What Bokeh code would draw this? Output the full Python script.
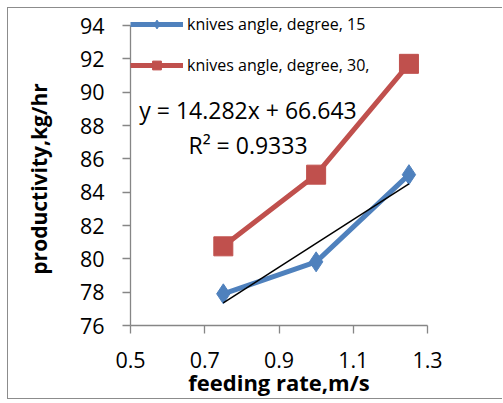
from bokeh.plotting import figure
from bokeh.models import Range1d, FixedTicker, Legend, LegendItem, Label
from bokeh.embed import file_html
from bokeh.resources import INLINE

# feeding rate (m/s)
feeding_rate = [0.75, 1.0, 1.25]
# productivity (kg/hr) for each knife angle
angle_15 = [77.9, 79.82, 85.05]
angle_30 = [80.75, 85.05, 91.7]

series_names = ["knives angle, degree, 15", "knives angle, degree, 30,"]

# linear trend of the 15-degree series
trend_slope = 14.282
trend_intercept = 66.643
trend_r2 = 0.9333

x_ticks = [0.5, 0.7, 0.9, 1.1, 1.3]
y_ticks = [76, 78, 80, 82, 84, 86, 88, 90, 92, 94]

BLUE = "#4F81BD"
RED = "#C0504D"
AXIS_GRAY = "#868686"
BORDER = "1px solid #8c8c8c"
FONT = "Open Sans"

# the frame reaches a little above 94 so the legend has room; the axis
# itself is bounded to 76..94
p = figure(width=495, height=392, output_backend="svg", toolbar_location=None,
           x_range=Range1d(0.5, 1.3), y_range=Range1d(76, 94.9),
           min_border_left=122, min_border_right=76,
           min_border_top=2, min_border_bottom=75,
           margin=(7, 0, 0, 7),
           styles={"border-left": BORDER, "border-top": BORDER,
                   "border-bottom": BORDER})

p.outline_line_color = None
p.xgrid.visible = False
p.ygrid.visible = False
p.background_fill_color = "white"
p.border_fill_color = "white"

for ax in (p.xaxis[0], p.yaxis[0]):
    ax.axis_line_color = AXIS_GRAY
    ax.axis_line_width = 1.3
    ax.major_tick_line_color = AXIS_GRAY
    ax.major_tick_line_width = 1.3
    ax.major_tick_out = 8
    ax.major_tick_in = 0
    ax.minor_tick_line_color = None
    ax.major_label_text_font = FONT
    ax.major_label_text_font_size = "21.5px"
    ax.major_label_text_color = "black"
    ax.axis_label_text_font = FONT
    ax.axis_label_text_font_style = "bold"
    ax.axis_label_text_color = "black"

p.xaxis.axis_label_text_font_size = "22px"
p.yaxis.axis_label_text_font_size = "21px"
p.xaxis.ticker = FixedTicker(ticks=x_ticks)
p.yaxis.ticker = FixedTicker(ticks=y_ticks)
p.yaxis.bounds = (76, 94)
p.xaxis.major_label_overrides = {t: f"{t:.1f}" for t in x_ticks}
p.xaxis.axis_label = "feeding rate,m/s"
p.yaxis.axis_label = "productivity,kg/hr" + "\u00a0" * 4
p.xaxis.major_label_standoff = 18
p.yaxis.major_label_standoff = 18
p.xaxis.axis_label_standoff = -4
p.yaxis.axis_label_standoff = 24

# trend line for the 15-degree series
tx = [feeding_rate[0], feeding_rate[-1]]
ty = [trend_slope * v + trend_intercept for v in tx]

l15 = p.line(feeding_rate, angle_15, line_color=BLUE, line_width=5)
m15 = p.scatter(feeding_rate, angle_15, marker="diamond", size=20,
                fill_color=BLUE, line_color=BLUE)
p.line(tx, ty, line_color="black", line_width=1.5)
l30 = p.line(feeding_rate, angle_30, line_color=RED, line_width=5)
m30 = p.scatter(feeding_rate, angle_30, marker="square", size=19,
                fill_color=RED, line_color=RED)

legend = Legend(items=[LegendItem(label=series_names[0], renderers=[l15, m15]),
                       LegendItem(label=series_names[1], renderers=[l30, m30])],
                location=(0, 249), orientation="vertical",
                glyph_width=53, glyph_height=22, label_height=22,
                label_text_font=FONT, label_text_font_size="16px",
                label_text_color="black", label_text_baseline="middle",
                spacing=19, padding=0, margin=0, label_standoff=4,
                border_line_color=None, background_fill_alpha=0)
p.add_layout(legend, "center")

eq = Label(x=0.8165, y=88.96,
           text=f"y = {trend_slope:.3f}x + {trend_intercept:.3f}",
           text_font=FONT, text_font_size="23px", text_align="center",
           text_baseline="middle", text_color="black")
r2 = Label(x=0.8165, y=86.86, text=f"R² = {trend_r2:.4f}",
           text_font=FONT, text_font_size="23px", text_align="center",
           text_baseline="middle", text_color="black")
p.add_layout(eq)
p.add_layout(r2)

open("out.html", "w").write(file_html(p, INLINE))
